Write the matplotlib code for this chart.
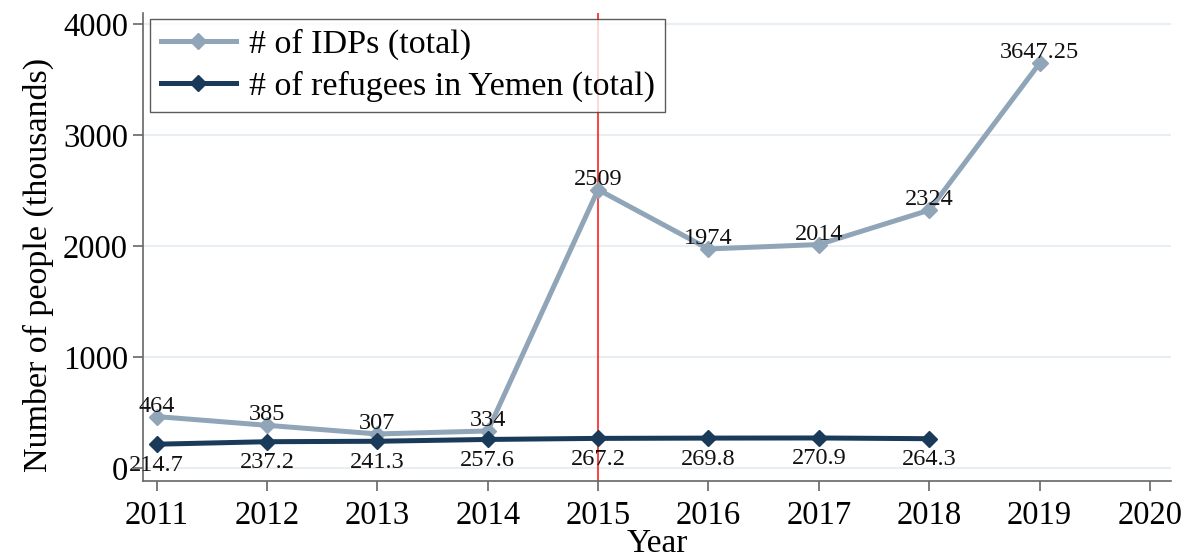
import numpy as np
import matplotlib
matplotlib.use("Agg")
import matplotlib.pyplot as plt

# data
years_idp = [2011, 2012, 2013, 2014, 2015, 2016, 2017, 2018, 2019]
idps = [464, 385, 307, 334, 2509, 1974, 2014, 2324, 3647.25]
idp_labels = ["464", "385", "307", "334", "2509", "1974", "2014", "2324", "3647.25"]

years_ref = [2011, 2012, 2013, 2014, 2015, 2016, 2017, 2018]
refugees = [214.7, 237.2, 241.3, 257.6, 267.2, 269.8, 270.9, 264.3]
ref_labels = ["214.7", "237.2", "241.3", "257.6", "267.2", "269.8", "270.9", "264.3"]

xticks = list(range(2011, 2021))
yticks = [0, 1000, 2000, 3000, 4000]

plt.rcParams['font.family'] = ['Liberation Serif', 'DejaVu Serif']

c_idp = '#91a5b9'
c_ref = '#1a3a5a'

fig = plt.figure(figsize=(12.04, 5.59), dpi=100)
ax = fig.add_axes([0.119, 0.1395, 0.8536, 0.837])

for y in yticks:
    ax.axhline(y, color='#e9eef2', linewidth=1.5, zorder=0)

ax.axvline(2015, color='#ff2020', linewidth=1.2, zorder=1)

ax.plot(years_idp, idps, color=c_idp, linewidth=3.6, marker='D', markersize=8,
        label='# of IDPs (total)', zorder=3)
ax.plot(years_ref, refugees, color=c_ref, linewidth=3.6, marker='D', markersize=8,
        label='# of refugees in Yemen (total)', zorder=4)

for x, y, s in zip(years_idp, idps, idp_labels):
    ax.annotate(s, (x, y), xytext=(0, 0), textcoords='offset points',
                ha='center', va='bottom', fontsize=17.5, color='#111111')
for x, y, s in zip(years_ref, refugees, ref_labels):
    ax.annotate(s, (x, y), xytext=(0, -7.5), textcoords='offset points',
                ha='center', va='top', fontsize=17.5, color='#111111')

ax.set_xlim(2010.88, 2020.19)
ax.set_ylim(-117, 4099)
ax.set_xticks(xticks)
ax.set_yticks(yticks)
ax.tick_params(axis='both', labelsize=23.5, color='#666666', width=1.2)
ax.tick_params(axis='x', length=7, pad=7)
ax.tick_params(axis='y', length=7, pad=4)

for side in ['top', 'right']:
    ax.spines[side].set_visible(False)
for side in ['left', 'bottom']:
    ax.spines[side].set_color('#666666')
    ax.spines[side].set_linewidth(1.2)

ax.set_xlabel('Year', fontsize=24, labelpad=-2)
ax.set_ylabel('Number of people (thousands)', fontsize=24.5)
ax.yaxis.set_label_coords(-0.102, 0.4615)
ax.yaxis.label.set_va('center')

leg = ax.legend(loc='upper left', bbox_to_anchor=(0.007, 0.988), fontsize=24.5,
                frameon=True, fancybox=False, handlelength=2.2,
                borderpad=0.3, labelspacing=0.3, handletextpad=0.4,
                borderaxespad=0)
leg.get_frame().set_edgecolor('#333333')
leg.get_frame().set_linewidth(1.0)

fig.savefig('out.png', dpi=100)
